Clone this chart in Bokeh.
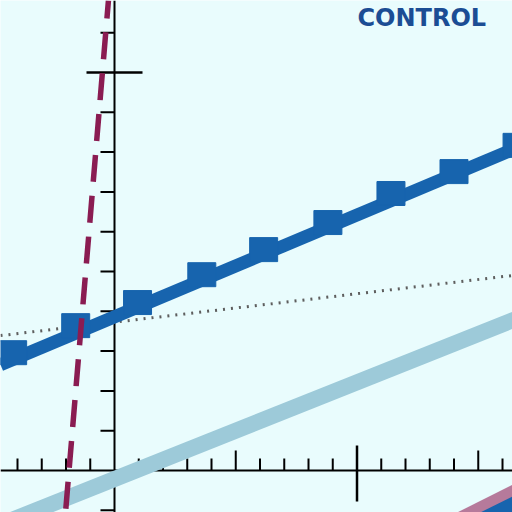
from bokeh.plotting import figure
from bokeh.models import Range1d
from bokeh.core.properties import value
from bokeh.embed import file_html
from bokeh.resources import INLINE

# control series: straight band with a block at each reading
control_line_x = [-4.7, 16.41]
control_line_y = [2.66, 8.06]
block_x = [-4.2, -1.6, 0.95, 3.6, 6.15, 8.8, 11.4, 14.0, 16.6]
block_y = [2.96, 3.64, 4.22, 4.92, 5.55, 6.23, 6.96, 7.51, 8.17]

# light blue trend
light_x = [-4.8, 16.6]
light_y = [-1.38, 3.82]

# grey dotted reference
dotted_x = [-4.7, 16.41]
dotted_y = [3.39, 4.90]

# steep dashed series
dashed_x = [-0.25, -2.02]
dashed_y = [11.81, -1.055]

# pink series with blue core (bottom right)
pink_x = [13.44, 17.15]
pink_y = [-1.63, -0.50]
core_x = [13.44, 17.15]
core_y = [-1.78, -0.65]

# axis ticks
x_minor = [-4, -3, -2, -1, 1, 2, 3, 4, 6, 7, 8, 9, 11, 12, 13, 14, 16]
x_mid = [5, 15]
x_major = [10]
y_minor = [-1, 1, 2, 3, 4, 5, 6, 7, 8, 9, 11]
y_major = [10]

title_text = "CONTROL"

bg = "#E9FCFD"
W = H = 512
x0, x1 = -4.701, 16.412
y0, y1 = -1.055, 11.809
px_x = (x1 - x0) / W   # data units per screen pixel
px_y = (y1 - y0) / H

p = figure(width=W, height=H, x_range=Range1d(x0, x1), y_range=Range1d(y0, y1),
           output_backend="svg", toolbar_location=None, min_border=0)
p.xaxis.visible = False
p.yaxis.visible = False
p.grid.visible = False
p.outline_line_color = None
p.background_fill_color = bg
p.border_fill_color = bg

# axes drawn by hand
p.segment(x0=[x0], y0=[0], x1=[x1], y1=[0], line_color="black", line_width=2)
p.segment(x0=[0], y0=[y0], x1=[0], y1=[y1], line_color="black", line_width=2)
p.segment(x0=x_minor, y0=[0] * len(x_minor), x1=x_minor,
          y1=[12 * px_y] * len(x_minor), line_color="black", line_width=2)
p.segment(x0=x_mid, y0=[0] * len(x_mid), x1=x_mid,
          y1=[20 * px_y] * len(x_mid), line_color="black", line_width=2)
p.segment(x0=x_major, y0=[-31 * px_y] * len(x_major), x1=x_major,
          y1=[25 * px_y] * len(x_major), line_color="black", line_width=2.5)
p.segment(x0=[-14 * px_x] * len(y_minor), y0=y_minor, x1=[0] * len(y_minor),
          y1=y_minor, line_color="black", line_width=2)
p.segment(x0=[-28 * px_x] * len(y_major), y0=y_major, x1=[28 * px_x] * len(y_major),
          y1=y_major, line_color="black", line_width=2.5)

# series
p.line(light_x, light_y, line_color="#9DCAD9", line_width=16)
p.line(dotted_x, dotted_y, line_color="#5E5E5E", line_width=3, line_dash="2 6")
p.line(control_line_x, control_line_y, line_color="#1764AE", line_width=13)
p.rect(block_x, block_y, width=28, height=24, width_units="screen",
       height_units="screen", fill_color="#1764AE", line_color="#1764AE")
p.line(dashed_x, dashed_y, line_color="#8A1C52", line_width=5.5,
       line_dash="27 14", line_dash_offset=9)
p.line(pink_x, pink_y, line_color="#B67A9B", line_width=26)
p.line(core_x, core_y, line_color="#1764AE", line_width=16)

p.text(x=[10.02], y=[11.38], text=[title_text], text_font=value("DejaVu Sans"),
       text_font_size="24px", text_font_style="bold", text_color="#1B4D94",
       text_baseline="alphabetic")

open("out.html", "w").write(file_html(p, INLINE))
